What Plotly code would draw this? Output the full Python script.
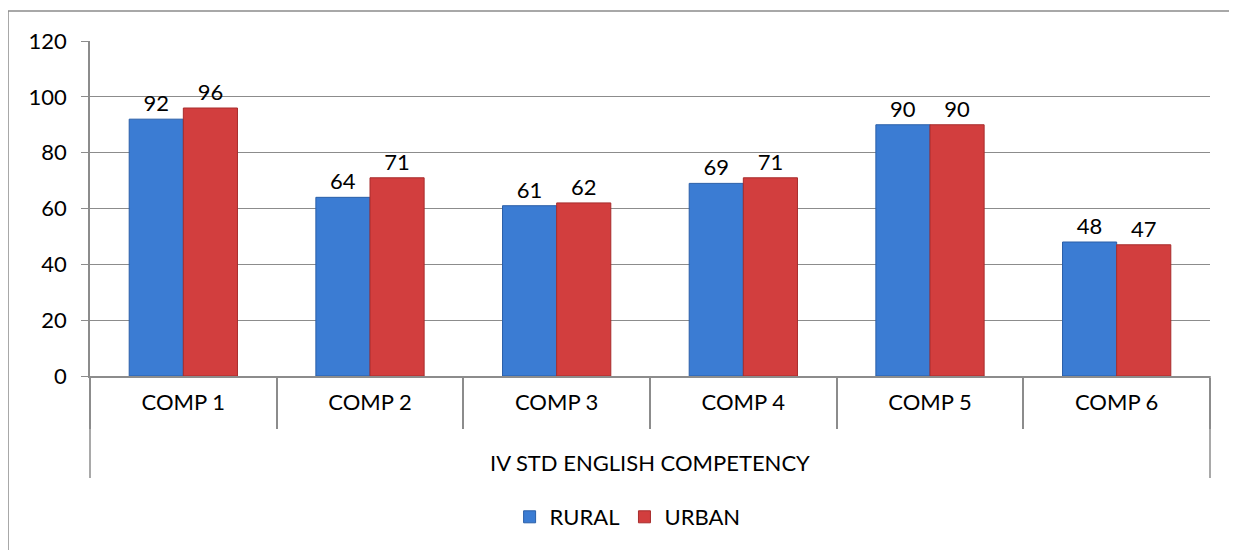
import plotly.graph_objects as go

group_label = "IV STD ENGLISH COMPETENCY"
categories = ["COMP 1", "COMP 2", "COMP 3", "COMP 4", "COMP 5", "COMP 6"]
rural = [92, 64, 61, 69, 90, 48]
urban = [96, 71, 62, 71, 90, 47]
y_ticks = [0, 20, 40, 60, 80, 100, 120]

FONT = "Lato, Carlito, Calibri, sans-serif"
GRAY = "#8C8C8C"
M_L, M_R, M_T, M_B = 82, 35, 33, 182
PLOT_H = 550 - M_T - M_B
PLOT_W = 1237 - M_L - M_R


def py(px_below_axis):
    """paper y for a pixel offset below the x axis line"""
    return -px_below_axis / PLOT_H


fig = go.Figure()
fig.add_trace(go.Bar(
    name="RURAL", x=categories, y=rural,
    marker=dict(color="#3B7CD3", line=dict(color="#2A5FA8", width=1)),
    text=[str(v) for v in rural], textposition="outside",
    textfont=dict(size=22, color="#000000", family=FONT),
    cliponaxis=False,
))
fig.add_trace(go.Bar(
    name="URBAN", x=categories, y=urban,
    marker=dict(color="#D23E3E", line=dict(color="#A82C2C", width=1)),
    text=[str(v) for v in urban], textposition="outside",
    textfont=dict(size=22, color="#000000", family=FONT),
    cliponaxis=False,
))

fig.update_layout(
    width=1237, height=550,
    margin=dict(l=M_L, r=M_R, t=M_T, b=M_B, autoexpand=False),
    paper_bgcolor="white", plot_bgcolor="white",
    barmode="group", bargap=0.42, bargroupgap=0,
    font=dict(family=FONT, size=22, color="#000000"),
    showlegend=True,
    legend=dict(orientation="h", x=0.48, xanchor="center", y=py(141), yanchor="middle",
                font=dict(size=22, family=FONT), traceorder="normal",
                bgcolor="rgba(0,0,0,0)"),
    annotations=[dict(text=group_label, xref="paper", yref="paper", x=0.5, y=py(86),
                      xanchor="center", yanchor="middle", showarrow=False,
                      font=dict(size=22, family=FONT, color="#000000"))],
    shapes=[
        dict(type="rect", xref="paper", yref="paper",
             x0=-82 / PLOT_W, x1=1.05, y0=-0.9, y1=1 + 30 / PLOT_H,
             line=dict(color=GRAY, width=1.5), fillcolor="rgba(0,0,0,0)"),
        dict(type="line", xref="paper", yref="paper", x0=0, x1=0, y0=0, y1=py(102),
             line=dict(color=GRAY, width=1.5)),
        dict(type="line", xref="paper", yref="paper", x0=1, x1=1, y0=0, y1=py(102),
             line=dict(color=GRAY, width=1.5)),
    ],
)
fig.update_yaxes(
    range=[0, 120], tickvals=y_ticks, showgrid=True, gridcolor=GRAY, gridwidth=1,
    showline=True, linecolor=GRAY, linewidth=1.5,
    ticks="outside", ticklen=7, tickcolor=GRAY, tickwidth=1,
    ticklabelstandoff=10,
    tickfont=dict(size=22, family=FONT), zeroline=False, automargin=False,
)
fig.update_xaxes(
    type="category", showline=True, linecolor=GRAY, linewidth=1.5,
    ticks="outside", tickson="boundaries", ticklen=51, tickcolor=GRAY, tickwidth=1.5,
    ticklabelstandoff=6,
    tickfont=dict(size=22, family=FONT), automargin=False,
)
fig.write_html("out.html")
